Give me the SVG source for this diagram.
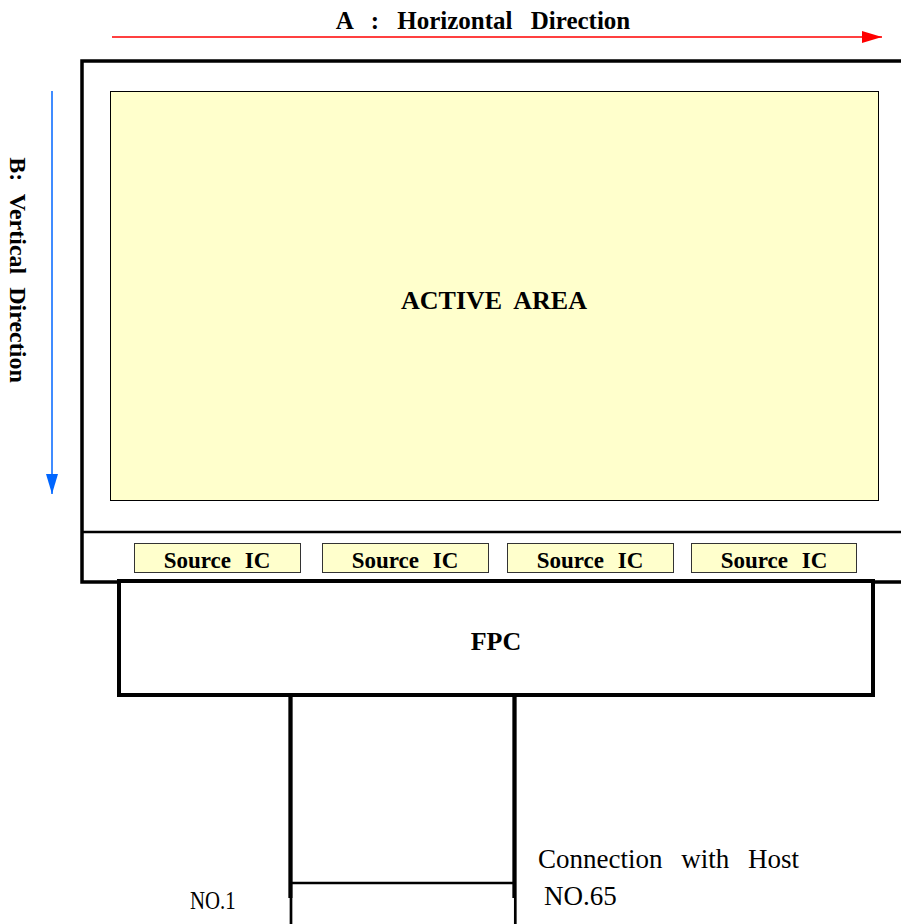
<svg xmlns="http://www.w3.org/2000/svg" width="901" height="924" viewBox="0 0 901 924">
<style>
.b{font-family:"Liberation Serif","Times New Roman",serif;font-weight:bold;fill:#000;}
.n{font-family:"Liberation Serif","Times New Roman",serif;fill:#000;}
.ic{fill:#FFFFCC;stroke:#333;stroke-width:1;}
.thick{stroke:#000;fill:none;}
</style>
<defs>
<marker id="ra" markerWidth="20" markerHeight="12" refX="20" refY="6" orient="auto" markerUnits="userSpaceOnUse"><path d="M0,0 L20,6 L0,12 Z" fill="#FF0000"/></marker>
<marker id="ba" markerWidth="20" markerHeight="12" refX="20" refY="6" orient="auto" markerUnits="userSpaceOnUse"><path d="M0,0 L20,6 L0,12 Z" fill="#0066FF"/></marker>
</defs>
<rect width="901" height="924" fill="#fff"/>
<g id="axis-a">
<line x1="112" y1="37" x2="882" y2="37" stroke="#FF0000" stroke-width="1.5" marker-end="url(#ra)"/>
<text class="b" x="483" y="29" font-size="25" text-anchor="middle" word-spacing="12">A : Horizontal Direction</text>
</g>
<g id="axis-b">
<line x1="52" y1="91" x2="52" y2="494" stroke="#0066FF" stroke-width="1.5" marker-end="url(#ba)"/>
<text class="b" transform="translate(10,270) rotate(90)" font-size="24" text-anchor="middle" word-spacing="7">B: Vertical Direction</text>
</g>
<g id="panel">
<path class="thick" d="M905,61 H82 V582 H905" stroke-width="3.5"/>
<line x1="82" y1="532" x2="905" y2="532" stroke="#000" stroke-width="2.7"/>
</g>
<g id="active-area">
<rect x="110.5" y="91.5" width="768" height="409" fill="#FFFFCC" stroke="#000" stroke-width="1"/>
<text class="b" x="494" y="309" font-size="26" text-anchor="middle" word-spacing="6">ACTIVE AREA</text>
</g>
<g id="source-ic-1">
<rect class="ic" x="134.5" y="543.5" width="166" height="29"/>
<text class="b" x="217" y="568" font-size="23" text-anchor="middle" word-spacing="8">Source IC</text>
</g>
<g id="source-ic-2">
<rect class="ic" x="322.5" y="543.5" width="166" height="29"/>
<text class="b" x="405" y="568" font-size="23" text-anchor="middle" word-spacing="8">Source IC</text>
</g>
<g id="source-ic-3">
<rect class="ic" x="507.5" y="543.5" width="166" height="29"/>
<text class="b" x="590" y="568" font-size="23" text-anchor="middle" word-spacing="8">Source IC</text>
</g>
<g id="source-ic-4">
<rect class="ic" x="691.5" y="543.5" width="165" height="29"/>
<text class="b" x="774" y="568" font-size="23" text-anchor="middle" word-spacing="8">Source IC</text>
</g>
<g id="fpc">
<rect x="119" y="581" width="754" height="114" fill="#fff" stroke="#000" stroke-width="4"/>
<text class="b" x="496" y="650" font-size="26" text-anchor="middle">FPC</text>
</g>
<g id="connectors">
<line x1="290.5" y1="695" x2="290.5" y2="898" stroke="#000" stroke-width="4.3"/>
<line x1="291" y1="898" x2="291" y2="924" stroke="#000" stroke-width="2.7"/>
<line x1="514.5" y1="695" x2="514.5" y2="898" stroke="#000" stroke-width="4.3"/>
<line x1="515.3" y1="898" x2="515.3" y2="924" stroke="#000" stroke-width="2.7"/>
<line x1="290" y1="883" x2="515" y2="883" stroke="#000" stroke-width="2.7"/>
</g>
<g id="labels">
<text class="n" x="538" y="868" font-size="27" word-spacing="12">Connection with Host</text>
<text class="n" x="544" y="905" font-size="27">NO.65</text>
<text class="n" transform="translate(190,909) scale(0.8,1)" font-size="26">NO.1</text>
</g>
</svg>
